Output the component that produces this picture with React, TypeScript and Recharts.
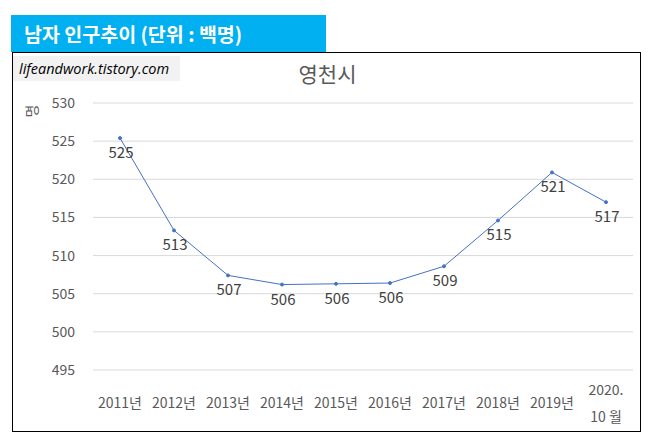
import { LineChart, Line, XAxis, YAxis, CartesianGrid, LabelList } from "recharts"

// 영천시 남자 인구 (백명)
const years = ["2011년", "2012년", "2013년", "2014년", "2015년", "2016년", "2017년", "2018년", "2019년", "2020.\n10 월"]
const male = [525.4, 513.3, 507.4, 506.2, 506.3, 506.4, 508.6, 514.6, 520.9, 517.0]
const yTicks = [495, 500, 505, 510, 515, 520, 525, 530]

const data = years.map((year, i) => ({ year, male: male[i] }))

const FONT = "'Noto Sans CJK KR', 'Noto Sans', sans-serif"

const XTick = ({ x, y, payload }: any) => {
  const lines = String(payload.value).split("\n")
  if (lines.length > 1) {
    return (
      <g>
        <text x={x} y={y + 17} textAnchor="middle" fill="#595959" fontSize={14} fontFamily={FONT}>{lines[0]}</text>
        <text x={x} y={y + 44} textAnchor="middle" fill="#595959" fontSize={14} fontFamily={FONT}>{lines[1]}</text>
      </g>
    )
  }
  return (
    <text x={x} y={y + 30} textAnchor="middle" fill="#595959" fontSize={14} fontFamily={FONT}>{payload.value}</text>
  )
}

const YTick = ({ y, payload }: any) => (
  <text x={62} y={y + 5} textAnchor="end" fill="#595959" fontSize={14} fontFamily={FONT}>{payload.value}</text>
)

const PointLabel = ({ x, y, value }: any) => (
  <text x={x + 1} y={y + 20} textAnchor="middle" fill="#404040" fontSize={15} fontFamily={FONT}>
    {Math.round(value)}
  </text>
)

export default function App() {
  return (
    <div style={{ position: "absolute", left: 0, top: 0, width: 649, height: 440, background: "#fff", fontFamily: FONT }}>
      <div style={{ position: "absolute", left: 11, top: 15, width: 315, height: 37, background: "#00b0f0", color: "#fff", fontWeight: "bold", fontSize: 19.5, lineHeight: "37px", paddingLeft: 13, boxSizing: "border-box", whiteSpace: "nowrap" }}>
        남자 인구추이 (단위 : 백명)
      </div>
      <div style={{ position: "absolute", left: 12, top: 52, width: 629, height: 380, border: "1px solid #000", boxSizing: "border-box" }}>
        <LineChart width={627} height={378} data={data} margin={{ top: 50, right: 7, bottom: 11, left: 20 }}>
          <CartesianGrid vertical={false} stroke="#d9d9d9" />
          <XAxis dataKey="year" axisLine={false} tickLine={false} height={50} interval={0} padding={{ left: 27, right: 27 }} tick={<XTick />} />
          <YAxis domain={[495, 530]} ticks={yTicks} axisLine={false} tickLine={false} width={60} tick={<YTick />} />
          <Line type="linear" dataKey="male" stroke="#4472c4" strokeWidth={1} dot={{ r: 1.5, fill: "#4472c4", stroke: "#4472c4" }} isAnimationActive={false}>
            <LabelList dataKey="male" content={<PointLabel />} />
          </Line>
        </LineChart>
        <div style={{ position: "absolute", left: 0, top: 3, width: 167, height: 25, background: "#f2f2f2", fontStyle: "italic", fontSize: 14.5, lineHeight: "25px", paddingLeft: 6, boxSizing: "border-box", color: "#000", fontFamily: "'Open Sans', sans-serif", whiteSpace: "nowrap" }}>
          lifeandwork.tistory.com
        </div>
        <div style={{ position: "absolute", left: 0, top: 5, width: 629, textAlign: "center", fontSize: 21, color: "#595959" }}>
          영천시
        </div>
        <div style={{ position: "absolute", left: 12, top: 48, fontSize: 14, color: "#595959", transform: "rotate(-90deg)" }}>
          명
        </div>
      </div>
    </div>
  )
}
